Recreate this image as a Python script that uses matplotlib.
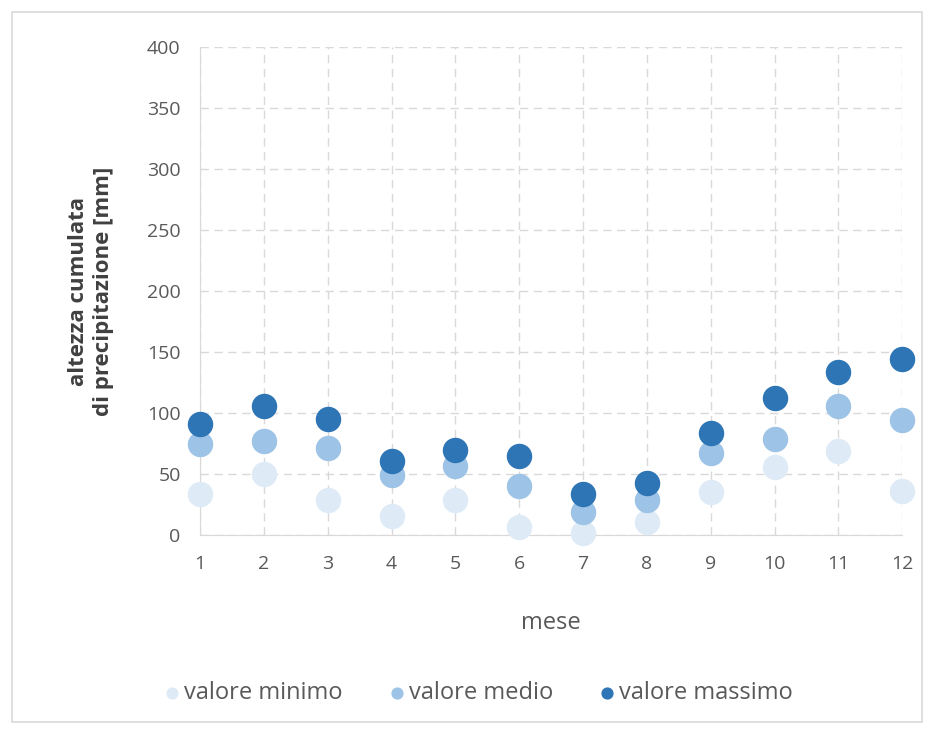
import matplotlib.pyplot as plt
from matplotlib.patches import Rectangle

mesi = list(range(1, 13))
valore_minimo = [34, 50, 29, 16, 29, 7, 2, 11, 35, 56, 69, 36]
valore_medio = [75, 77, 71, 49, 57, 40, 19, 29, 67, 79, 106, 94]
valore_massimo = [91, 106, 95, 61, 70, 65, 34, 43, 84, 112, 134, 144]

plt.rcParams['font.family'] = ['Open Sans', 'DejaVu Sans']
grigio = "#595959"

fig = plt.figure(figsize=(9.35, 7.35), dpi=100)
ax = fig.add_axes([0.214, 0.272, 0.751, 0.664])

# cornice esterna del grafico
fig.patches.append(Rectangle((12 / 935, 13 / 735), 910 / 935, 710 / 735,
                             transform=fig.transFigure, fill=False,
                             edgecolor="#d9d9d9", linewidth=1.2))

ax.scatter(mesi, valore_minimo, s=300, color="#deebf7", label="valore minimo", zorder=3, clip_on=False)
ax.scatter(mesi, valore_medio, s=300, color="#9dc3e6", label="valore medio", zorder=3, clip_on=False)
ax.scatter(mesi, valore_massimo, s=300, color="#2e75b6", label="valore massimo", zorder=3, clip_on=False)

ax.set_xlim(1, 12)
ax.set_ylim(0, 400)
ax.set_xticks(mesi)
ax.set_yticks(range(0, 401, 50))
ax.grid(True, linestyle=(0, (6, 4)), color="#d9d9d9", linewidth=1)
ax.set_axisbelow(True)

for s in ["top", "right"]:
    ax.spines[s].set_visible(False)
ax.spines["left"].set_color("#d9d9d9")
ax.spines["bottom"].set_color("#d9d9d9")
ax.tick_params(length=0, labelsize=14, colors=grigio, pad=14)

ax.set_xlabel("mese", fontsize=17, color=grigio, labelpad=28)
ax.set_ylabel("altezza cumulata\ndi precipitazione [mm]", fontsize=16,
              fontweight="bold", color="#404040", labelpad=24)

fig.legend(loc="center", bbox_to_anchor=(0.51, 0.057), ncol=3, frameon=False,
           fontsize=17, labelcolor=grigio, markerscale=0.45, handletextpad=0.0,
           handlelength=1.0, columnspacing=1.8)

plt.savefig("out.png", dpi=100)
